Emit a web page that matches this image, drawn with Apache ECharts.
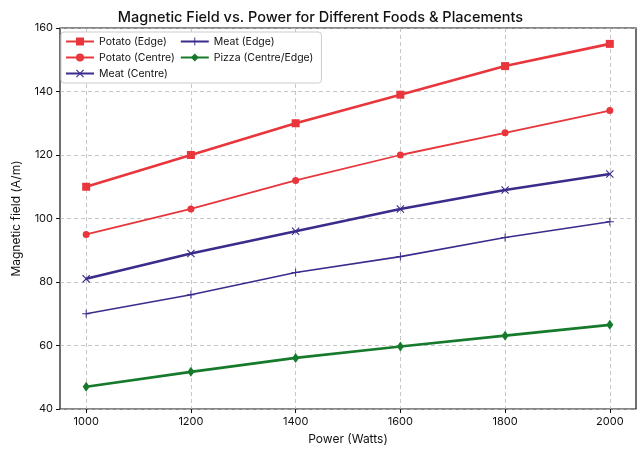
<!DOCTYPE html>
<html>
<head>
<meta charset="utf-8">
<script src="https://cdn.jsdelivr.net/npm/echarts@6/dist/echarts.min.js"></script>
<style>
  html, body { margin: 0; padding: 0; background: #fff; }
  #chart { width: 641px; height: 450px; }
</style>
</head>
<body>
<div id="chart"></div>
<script>
// Power levels (W) and measured field strengths (A/m)
const powers = [1000, 1200, 1400, 1600, 1800, 2000];
const potatoEdge = [110, 120, 130, 139, 148, 155];
const potatoCentre = [95, 103, 112, 120, 127, 134];
const meatCentre = [81, 89, 96, 103, 109, 114];
const meatEdge = [70, 76, 83, 88, 94, 99];
const pizza = [47, 51.7, 56.1, 59.7, 63.1, 66.5];
const xTicks = [1000, 1200, 1400, 1600, 1800, 2000];

const FONT = 'Inter, "Noto Sans", sans-serif';
const RED = '#e8363c';
const PURPLE = '#3d2b8c';
const GREEN = '#167a2c';

const SYM_X = 'path://M1,0 L5,4 L9,0 L10,1 L6,5 L10,9 L9,10 L5,6 L1,10 L0,9 L4,5 L0,1 Z';
const SYM_PLUS = 'path://M4.4,0 H5.6 V4.4 H10 V5.6 H5.6 V10 H4.4 V5.6 H0 V4.4 H4.4 Z';
const SYM_DIAMOND = 'path://M5,0 L8.5,5 L5,10 L1.5,5 Z';

const pairs = ys => powers.map((p, i) => [p, ys[i]]);

function line(name, ys, color, width, symbol, size) {
  return {
    name, type: 'line', data: pairs(ys),
    symbol, symbolSize: size, showSymbol: true,
    lineStyle: { color, width },
    itemStyle: { color, borderWidth: 0 },
    emphasis: { disabled: true },
    animation: false
  };
}

const chart = echarts.init(document.getElementById('chart'), null, { renderer: 'canvas' });
chart.setOption({
  backgroundColor: '#fff',
  animation: false,
  title: {
    text: 'Magnetic Field vs. Power for Different Foods & Placements',
    left: 'center', top: 5,
    textStyle: { fontFamily: FONT, fontSize: 14.5, fontWeight: 500, color: '#111' }
  },
  grid: {
    left: 60, right: 5, top: 28, bottom: 39,
    show: true, borderColor: '#111', borderWidth: 1.2, backgroundColor: 'transparent'
  },
  legend: {
    orient: 'vertical',
    left: 61, top: 32,
    height: 46,
    padding: [4, 8, 4, 4],
    itemGap: 5,
    itemWidth: 28, itemHeight: 10,
    backgroundColor: '#fff',
    borderColor: '#cccccc', borderWidth: 1, borderRadius: 3,
    textStyle: { fontFamily: FONT, fontSize: 10.5, color: '#111' },
    data: ['Potato (Edge)', 'Potato (Centre)', 'Meat (Centre)', 'Meat (Edge)', 'Pizza (Centre/Edge)']
  },
  xAxis: {
    type: 'value', min: 950, max: 2050,
    name: 'Power (Watts)', nameLocation: 'middle', nameGap: 24,
    nameTextStyle: { fontFamily: FONT, fontSize: 12, color: '#111' },
    axisLine: { show: false },
    axisTick: { show: true, customValues: xTicks, length: 4, inside: false, lineStyle: { color: '#111' } },
    axisLabel: { customValues: xTicks, formatter: v => String(v), fontFamily: FONT, fontSize: 11, color: '#111', margin: 7 },
    splitLine: { show: true, customValues: xTicks, lineStyle: { color: '#b8b8b8', type: [4, 3], width: 0.8 } }
  },
  yAxis: {
    type: 'value', min: 40, max: 160, interval: 20,
    name: 'Magnetic field (A/m)', nameLocation: 'middle', nameGap: 38,
    nameTextStyle: { fontFamily: FONT, fontSize: 12, color: '#111' },
    axisLine: { show: false },
    axisTick: { show: true, length: 4, lineStyle: { color: '#111' } },
    axisLabel: { fontFamily: FONT, fontSize: 11, color: '#111', margin: 7 },
    splitLine: { show: true, lineStyle: { color: '#b8b8b8', type: [4, 3], width: 0.8 } }
  },
  series: [
    line('Potato (Edge)', potatoEdge, RED, 2.6, 'rect', 8),
    line('Potato (Centre)', potatoCentre, RED, 1.8, 'circle', 7),
    line('Meat (Centre)', meatCentre, PURPLE, 2.6, SYM_X, 8),
    line('Meat (Edge)', meatEdge, PURPLE, 1.6, SYM_PLUS, 8),
    line('Pizza (Centre/Edge)', pizza, GREEN, 2.6, SYM_DIAMOND, [7, 10])
  ]
});
</script>
</body>
</html>
